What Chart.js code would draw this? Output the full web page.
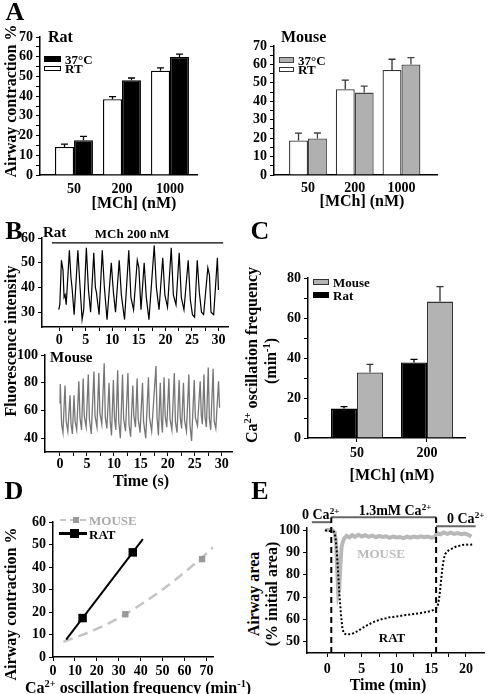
<!DOCTYPE html>
<html>
<head>
<meta charset="utf-8">
<script src="https://cdn.jsdelivr.net/npm/chart.js@4.4.0/dist/chart.umd.min.js"></script>
<style>
  body { margin: 0; width: 488px; height: 694px; position: relative; overflow: hidden; background: #fff;
         font-family: "Liberation Serif", "DejaVu Serif", serif; font-weight: bold; color: #000; }
  canvas { position: absolute; }
  .t { position: absolute; white-space: nowrap; line-height: 1; }
  .b { position: absolute; box-sizing: border-box; }
  sup { font-size: 65%; vertical-align: 0; position: relative; top: -0.55em; }
</style>
</head>
<body>
<script>
// ---- panel A : airway contraction (%) ----
const doses = ['50', '200', '1000'];
const ratRT = [14.2, 38.4, 52.9];
const ratRTerr = [1.5, 1.4, 1.4];
const rat37 = [17.6, 48, 59.9];
const rat37err = [2, 1.2, 1.4];
const mouseRT = [18.7, 46.5, 57];
const mouseRTerr = [4, 5, 5.8];
const mouse37 = [19.8, 44.7, 60];
const mouse37err = [3, 3.5, 3.7];

// ---- panel B : fluorescence traces [time s, intensity] ----
const ratTrace = [[-0.1,31],[0.1,33],[0.4,51],[0.7,47],[0.9,36],[1.1,37],[1.3,33],[1.9,55],[2.2,44],[2.4,40],[2.8,29],
  [3.5,55],[3.8,44],[4.3,27],[4.6,31],[5.1,56],[5.5,39],[5.9,30],[6.5,54],[6.8,40],[7.0,38],[7.5,29],[8.1,55],[8.5,40],
  [9.0,27],[9.8,50],[10.2,38],[10.6,30],[11.3,51],[11.7,37],[12.3,27],[13.1,55],[13.5,36],[14.0,31],[14.7,51],[15.0,48],
  [15.4,31],[16.0,50],[16.4,36],[16.9,27],[17.9,57],[18.3,40],[18.8,31],[19.5,52],[19.9,37],[20.4,32],[21.1,56],[21.5,37],
  [22.0,33],[22.6,54],[23.0,36],[23.5,31],[24.3,51],[24.7,35],[25.1,29],[25.5,28],[26.0,51],[26.4,38],[26.8,30],[27.2,29],
  [28.0,48],[28.3,45],[28.6,30],[29.1,29],[29.8,52],[30.0,39]];
const mouseTrace = [[0.0,65],[0.05,79],[0.3,50],[0.55,44],[0.93,78],[1.15,52],[1.45,45],[1.86,71],[2.05,50],[2.3,43],
  [2.6,71],[2.8,52],[3.1,46],[3.5,81],[3.7,55],[4.0,46],[4.3,83],[4.5,56],[4.85,48],[5.25,86],[5.45,54],[5.8,43],[6.3,88],
  [6.5,56],[6.85,48],[7.2,87],[7.4,58],[7.75,50],[8.2,94],[8.4,55],[8.7,47],[9.1,80],[9.3,53],[9.55,42],[9.9,82],[10.1,55],
  [10.35,46],[10.7,89],[10.9,52],[11.2,40],[11.6,86],[11.8,54],[12.15,45],[12.6,87],[12.8,50],[13.1,41],[13.5,78],[13.7,56],
  [14.0,48],[14.3,83],[14.5,54],[14.85,44],[15.3,80],[15.5,52],[15.9,40],[16.4,84],[16.6,55],[17.0,45],[17.8,92],[18.0,55],
  [18.25,42],[18.6,80],[18.8,53],[19.0,44],[19.3,84],[19.5,56],[19.8,48],[20.2,83],[20.4,54],[20.75,46],[21.2,87],[21.4,52],
  [21.7,44],[22.1,82],[22.3,55],[22.55,47],[22.9,80],[23.1,53],[23.45,45],[23.9,86],[24.1,50],[24.4,38],[24.9,82],[25.1,55],
  [25.5,49],[26.0,81],[26.2,57],[26.4,50],[26.7,86],[26.9,55],[27.15,48],[27.5,91],[27.7,54],[27.95,46],[28.4,90],[28.6,52],
  [28.9,47],[29.4,81],[29.6,62]];
const mchBar = [[-1.4,58],[30.9,58]];

// ---- panel C : oscillation frequency (min-1) ----
const freqDoses = ['50', '200'];
const freqRat = [14.7, 37.8];
const freqRatErr = [1, 1.5];
const freqMouse = [32.8, 68.2];
const freqMouseErr = [4, 7.5];

// ---- panel D : contraction vs frequency ----
const ratPoints = [[13.5, 17.3], [36.4, 46.5]];
const ratFit = [[6, 7.7], [41, 52.4]];
const mousePoints = [[33, 19], [68, 43.5]];
const mouseFit = [[4.7, 6.7], [20, 12.5], [33, 19], [50, 30], [68, 44.2], [73, 48.7]];

// ---- panel E : airway area (% initial) [time min, value] ----
const mouseArea = [[-0.3,100.5],[0.0,100],[0.4,100.3],[0.8,99.8],[1.1,99],[1.3,94],[1.45,82],[1.6,72],[1.75,74],[1.9,84],
  [2.1,93],[2.4,96],[2.8,97.5],[3.2,96.8],[3.6,97.8],[4.0,97],[4.5,98],[5.0,97.2],[5.5,97.8],[6.0,97],[6.5,97.6],[7.0,96.8],
  [7.5,97.5],[8.0,97],[8.5,97.3],[9.0,96.6],[9.5,97.2],[10.0,96.8],[10.5,97],[11.0,96.5],[11.5,97.1],[12.0,96.7],[12.5,97.2],
  [13.0,96.8],[13.5,97.3],[14.0,96.9],[14.5,97.2],[15.0,96.7],[15.5,97],[15.8,98.6],[16.3,98.2],[16.8,99],[17.3,98.4],
  [17.8,98.9],[18.3,98.3],[18.8,98.7],[19.3,98.2],[19.8,98.5],[20.3,98],[20.8,97.2]];
const ratArea = [[-0.3,100],[0.2,99.7],[0.6,99.5],[1.0,99.3],[1.2,97],[1.4,90],[1.6,80],[1.8,70],[2.0,62],[2.2,56],
  [2.4,53.8],[2.8,53.3],[3.2,53.4],[3.6,53.6],[4.0,54.2],[4.5,55],[5.0,56],[5.5,57],[6.0,57.8],[6.5,58.6],[7.0,59.3],
  [7.5,59.8],[8.0,60.3],[8.5,60.6],[9.0,61],[9.5,61.1],[10.0,61.4],[10.5,61.6],[11,61.9],[11.5,62],[12,62.3],[12.5,62.5],
  [13,62.7],[13.5,62.9],[14,63.2],[14.5,63.5],[15,63.9],[15.4,64.4],[15.8,65.4],[16.0,67],[16.2,71],[16.4,77],[16.6,83],
  [16.8,87],[17.0,89.3],[17.3,90.5],[17.6,91.2],[18.0,91.8],[18.5,92.6],[19.0,93],[19.5,93.4],[20.0,93.6],[20.5,93.5],[21.0,93.6]];
const caSteps = [[-2.2, 0.6, 103.6], [0.6, 15.7, 105.8], [15.7, 21.4, 101.8]];
const caSwitch = [0.6, 15.7];

// ---- tick positions ----
const ticksA = [0,5,10,15,20,25,30,35,40,45,50,55,60,65,70];
const ticksC = [0,10,20,30,40,50,60,70,80];
const timeTicks = [0,2.5,5,7.5,10,12.5,15,17.5,20,22.5,25,27.5,30];
const ticksRatF = [30,40,50,60];
const ticksMouseF = [40,60,80,100];
const ticksD = [0,10,20,30,40,50,60];
const ticksDx = [0,10,20,30,40,50,60,70];
const ticksEy = [50,60,70,80,90,100];
const ticksEx = [0,2.5,5,7.5,10,12.5,15,17.5,20];

Chart.defaults.font.family = 'Liberation Serif';
Chart.defaults.font.weight = 'bold';
Chart.defaults.color = '#000';
Chart.defaults.animation = false;
Chart.defaults.plugins.legend.display = false;
Chart.defaults.plugins.tooltip.enabled = false;

const PAD = {l: 40, t: 12, r: 14, b: 28};

function makeCanvas(area) {
  const c = document.createElement('canvas');
  const w = area.r - area.l + PAD.l + PAD.r, h = area.b - area.t + PAD.t + PAD.b;
  c.width = w; c.height = h;
  c.style.cssText = `left:${area.l - PAD.l}px;top:${area.t - PAD.t}px;width:${w}px;height:${h}px`;
  document.body.appendChild(c);
  return c;
}

// o: min, max, at (tick positions), label fn, x (horizontal?), tickLen, pad
function axis(o) {
  return {
    type: 'linear', min: o.min, max: o.max, offset: false,
    afterBuildTicks: s => { s.ticks = o.at.map(v => ({value: v})); },
    afterFit: s => { if (o.x) s.height = PAD.b; else s.width = PAD.l; },
    ticks: {autoSkip: false, maxRotation: 0, padding: o.pad ?? 3, font: {size: 14, weight: 'bold'}, color: '#000', callback: o.label},
    grid: {drawOnChartArea: false, drawTicks: o.tickLen !== 0, tickLength: o.tickLen || 4, color: '#000', offset: false},
    border: {color: '#000', width: 1.5}
  };
}
const every = step => v => (Math.abs(v / step - Math.round(v / step)) < 1e-6 ? String(v) : '');

const errorBars = {
  id: 'errorBars',
  afterDatasetsDraw(chart) {
    const ctx = chart.ctx, ys = chart.scales.y;
    chart.data.datasets.forEach((ds, i) => {
      if (!ds.errors) return;
      chart.getDatasetMeta(i).data.forEach((bar, j) => {
        const top = ys.getPixelForValue(ds.data[j].y + ds.errors[j]);
        ctx.save();
        ctx.strokeStyle = ds.borderColor; ctx.lineWidth = 1.3;
        ctx.beginPath();
        ctx.moveTo(bar.x, bar.y); ctx.lineTo(bar.x, top);
        ctx.moveTo(bar.x - 3.5, top); ctx.lineTo(bar.x + 3.5, top);
        ctx.stroke(); ctx.restore();
      });
    });
  }
};

function bars(label, vals, errs, fill, edge, pct) {
  return {label, data: vals.map((v, i) => ({x: i, y: v})), errors: errs, backgroundColor: fill,
          borderColor: edge, borderWidth: 1.3, categoryPercentage: pct, barPercentage: 1};
}

function barChart(area, xr, yAx, sets, cats, tickLen, pad) {
  return new Chart(makeCanvas(area), {
    type: 'bar',
    data: {datasets: sets},
    options: {
      responsive: false,
      layout: {padding: {top: PAD.t, right: PAD.r}},
      scales: {
        x: axis({x: true, min: xr[0], max: xr[1], at: cats.map((_, i) => i), label: v => cats[v] ?? '', tickLen, pad}),
        y: yAx
      }
    },
    plugins: [errorBars]
  });
}

function lineSet(pts, color, width, extra) {
  return Object.assign({data: pts.map(p => ({x: p[0], y: p[1]})), showLine: true, borderColor: color,
                        borderWidth: width, pointRadius: 0, tension: 0, fill: false}, extra || {});
}

function scatterChart(area, xAx, yAx, sets, plugins) {
  return new Chart(makeCanvas(area), {
    type: 'scatter',
    data: {datasets: sets},
    options: {responsive: false, layout: {padding: {top: PAD.t, right: PAD.r}}, scales: {x: xAx, y: yAx}},
    plugins: plugins || []
  });
}

// ---------- A ----------
const setRatRT = bars('RT', ratRT, ratRTerr, '#fff', '#000', 0.79);
const setRat37 = bars('37°C', rat37, rat37err, '#000', '#000', 0.79);
barChart({l: 40, r: 197, t: 37, b: 175}, [-0.708, 2.5625],
  axis({min: 0, max: 70, at: ticksA, label: every(10)}), [setRatRT, setRat37], doses, 0, 6);

const setMouseRT = bars('RT', mouseRT, mouseRTerr, '#fff', '#333', 0.81);
const setMouse37 = bars('37°C', mouse37, mouse37err, '#b0b0b0', '#444', 0.81);
barChart({l: 274, r: 437, t: 46, b: 175}, [-0.727, 2.76],
  axis({min: 0, max: 70, at: ticksA, label: every(10)}), [setMouseRT, setMouse37], doses, 0, 5);

// ---------- B ----------
scatterChart({l: 42, r: 228, t: 238, b: 327},
  axis({x: true, min: -3.26, max: 31.8, at: timeTicks, label: every(5), pad: 1}),
  axis({min: 24, max: 60, at: ticksRatF, label: every(10)}),
  [lineSet(ratTrace, '#000', 1.2), lineSet(mchBar, '#000', 1.2)]);

scatterChart({l: 45, r: 232, t: 355, b: 452},
  axis({x: true, min: -2.78, max: 31.9, at: timeTicks, label: every(5), pad: 0}),
  axis({min: 30, max: 100, at: ticksMouseF, label: every(20)}),
  [lineSet(mouseTrace, '#767676', 1.3)]);

// ---------- C ----------
const setFreqRat = bars('Rat', freqRat, freqRatErr, '#000', '#000', 0.743);
const setFreqMouse = bars('Mouse', freqMouse, freqMouseErr, '#b3b3b3', '#333', 0.743);
barChart({l: 308, r: 465, t: 278, b: 438}, [-0.7, 1.543],
  axis({min: 0, max: 80, at: ticksC, label: every(20)}), [setFreqRat, setFreqMouse], freqDoses, 4, 3);

// ---------- D ----------
scatterChart({l: 53, r: 213, t: 522, b: 657},
  axis({x: true, min: 0, max: 73, at: ticksDx, label: every(10), pad: 2}),
  axis({min: 0, max: 60, at: ticksD, label: every(10)}),
  [
    lineSet(ratPoints, '#000', 0, {showLine: false, pointStyle: 'rect', pointRadius: 6, pointBackgroundColor: '#000', pointBorderWidth: 0}),
    lineSet(mousePoints, '#999', 0, {showLine: false, pointStyle: 'rect', pointRadius: 4.5, pointBackgroundColor: '#999', pointBorderWidth: 0}),
    lineSet(ratFit, '#000', 2),
    lineSet(mouseFit, '#c4c4c4', 2.5, {borderDash: [10, 6], cubicInterpolationMode: 'monotone'})
  ]);

// ---------- E ----------
const caBars = {
  id: 'caBars',
  afterDraw(chart) {
    const ctx = chart.ctx, xs = chart.scales.x, ys = chart.scales.y;
    ctx.save();
    ctx.strokeStyle = '#666'; ctx.lineWidth = 2;
    caSteps.forEach(([a, b, lvl]) => {
      ctx.beginPath();
      ctx.moveTo(xs.getPixelForValue(a), ys.getPixelForValue(lvl));
      ctx.lineTo(xs.getPixelForValue(b), ys.getPixelForValue(lvl));
      ctx.stroke();
    });
    ctx.strokeStyle = '#000'; ctx.setLineDash([6, 4]);
    caSwitch.forEach(t => {
      ctx.beginPath();
      ctx.moveTo(xs.getPixelForValue(t), ys.getPixelForValue(45));
      ctx.lineTo(xs.getPixelForValue(t), ys.getPixelForValue(105.8));
      ctx.stroke();
    });
    ctx.restore();
  }
};
scatterChart({l: 307, r: 484, t: 528, b: 653},
  axis({x: true, min: -2.9, max: 22.6, at: ticksEx, label: every(5), pad: 4}),
  axis({min: 45, max: 101, at: ticksEy, label: every(10)}),
  [lineSet(ratArea, '#000', 2, {borderDash: [2, 2]}), lineSet(mouseArea, '#b8b8b8', 4)],
  [caBars]);

// ---------- text ----------
function txt(html, x, y, size, o = {}) {
  const d = document.createElement('div');
  d.className = 't';
  d.innerHTML = html;
  d.style.left = x + 'px'; d.style.top = y + 'px'; d.style.fontSize = size + 'px';
  d.style.transform = (o.left ? 'translate(0,-50%)' : 'translate(-50%,-50%)') + (o.rot ? ' rotate(-90deg)' : '');
  if (o.color) d.style.color = o.color;
  document.body.appendChild(d);
}
function box(x, y, w, h, fill, edge) {
  const d = document.createElement('div');
  d.className = 'b';
  d.style.cssText = `left:${x}px;top:${y}px;width:${w}px;height:${h}px;background:${fill};border:1.3px solid ${edge}`;
  document.body.appendChild(d);
}
function legend(items, x, y, gap, w, h) {
  items.forEach((ds, i) => {
    box(x, y + i * gap, w, h, ds.backgroundColor, ds.borderColor);
    txt(ds.label, x + w + 4, y + i * gap + h / 2, 13, {left: true});
  });
}

txt('A', 15, 12, 26);
txt('Rat', 48, 37, 16, {left: true});
legend([setRat37, setRatRT], 44, 56, 9.5, 17, 5.5);
txt('Airway contraction %', 11, 101, 16, {rot: true});
txt('[MCh] (nM)', 134, 203, 16);
txt('Mouse', 281, 37, 16, {left: true});
legend([setMouse37, setMouseRT], 279, 57, 9.5, 15, 5.5);
txt('[MCh] (nM)', 362, 201, 16);

txt('B', 14, 231, 26);
txt('Rat', 43, 232, 15, {left: true});
txt('MCh 200 nM', 132, 233, 13);
txt('Mouse', 50, 357, 15, {left: true});
txt('Time (s)', 141, 481, 16);
txt('Fluorescence intensity', 11, 341, 16, {rot: true});

txt('C', 260, 231, 26);
txt('Ca<sup>2+</sup> oscillation frequency', 252, 355, 16, {rot: true});
txt('(min<sup>-1</sup>)', 271, 361, 16, {rot: true});
legend([setFreqMouse, setFreqRat], 313, 279, 13, 16, 5.5);
txt('[MCh] (nM)', 392, 475, 16);

txt('D', 14, 491, 26);
txt('Airway contraction %', 11, 604, 16, {rot: true});
txt('Ca<sup>2+</sup> oscillation frequency (min<sup>-1</sup>)', 25, 688, 16, {left: true});
// D legend
const dl = document.createElement('div');
dl.className = 'b';
dl.style.cssText = 'left:60px;top:519px;width:26px;height:0;border-top:2.5px dashed #c4c4c4';
document.body.appendChild(dl);
box(73, 517, 6, 6, '#999', '#999');
txt('MOUSE', 89, 520, 13, {left: true, color: '#aaa'});
box(59, 532, 28, 2.5, '#000', '#000');
box(70, 529, 9, 9, '#000', '#000');
txt('RAT', 89, 534, 13, {left: true});

txt('E', 260, 491, 26);
txt('Airway area', 254, 594, 16, {rot: true});
txt('(% initial area)', 272, 594, 16, {rot: true});
txt('Time (min)', 388, 685, 16);
txt('0 Ca<sup>2+</sup>', 302, 515, 14, {left: true});
txt('1.3mM Ca<sup>2+</sup>', 395, 511, 14);
txt('0 Ca<sup>2+</sup>', 447, 519, 14, {left: true});
txt('MOUSE', 381, 553, 13, {color: '#bbb'});
txt('RAT', 392, 637, 13);
</script>
</body>
</html>
